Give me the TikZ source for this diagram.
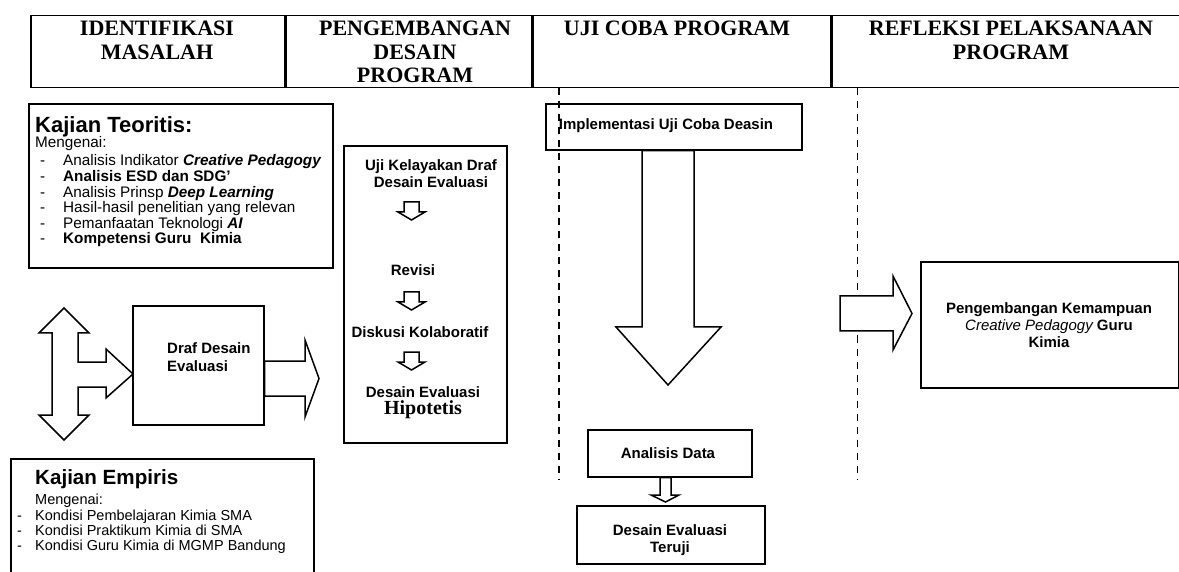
\documentclass[tikz,border=0pt]{standalone}
\usepackage{fontspec}
\setmainfont{Liberation Sans}
\newfontfamily\headfont{Liberation Serif}
\usepackage{tikz}
\usetikzlibrary{positioning,calc}

\begin{document}
\begin{tikzpicture}[
  x=1pt,y=-1pt,
  cell/.style={draw,line width=1.5pt,anchor=north west,minimum height=72pt,inner sep=0pt},
  headtxt/.style={anchor=north,align=center,inner sep=0pt,font=\headfont\bfseries\fontsize{22}{23.3}\selectfont},
  box/.style={draw,line width=1.6pt,anchor=north west,inner sep=0pt},
  txt/.style={align=center,inner sep=0pt,font=\bfseries\fontsize{15}{17}\selectfont},
  hollow/.style={draw,line width=1.5pt,fill=white,line join=miter},
  phase/.style={line width=1.4pt,dash pattern=on 7pt off 6pt},
  sdown/.pic={\path[hollow] (-7.5,0) -- (-7.5,10) -- (-13.5,10) -- (0,18) -- (13.5,10) -- (7.5,10) -- (7.5,0) -- cycle;}
]
  \useasboundingbox (0,0) rectangle (1179,572);
  \clip (0,0) rectangle (1179,572);

  % header row
  \node[cell,minimum width=254pt] (c1) at (30,15) {};
  \node[cell,minimum width=245pt,right=0pt of c1] (c2) {};
  \node[cell,minimum width=298pt,right=0pt of c2] (c3) {};
  \node[cell,minimum width=354pt,right=0pt of c3] (c4) {};
  \node[headtxt] (t1) at (157,21) {IDENTIFIKASI\\MASALAH};
  \node[headtxt] (t2) at (415,21) {PENGEMBANGAN\\DESAIN\\PROGRAM};
  \node[headtxt] (t3) at (677,21) {UJI COBA PROGRAM};
  \node[headtxt] (t4) at (1011,21) {REFLEKSI PELAKSANAAN\\PROGRAM};

  % phase separators
  \coordinate (s1) at ($(c3.south west)+(27,0)$);
  \coordinate (s2) at ($(c4.south west)+(26,0)$);
  \draw[phase] (s1) -- ++(0,391);
  \draw[phase] (s2) -- ++(0,391);

  % identifikasi masalah
  \node[box,minimum width=304pt,minimum height=164pt] (teori) at (28,103) {};
  \node[anchor=north west,inner sep=0pt,font=\fontsize{15.3}{15}\selectfont] (teoritxt) at (35,116) {%
    \begin{tabular}{@{\hspace{5pt}}p{23pt}@{}l@{}}
      \multicolumn{2}{@{}l@{}}{\fontsize{22}{22}\selectfont\bfseries Kajian Teoritis:}\\
      \multicolumn{2}{@{}l@{}}{Mengenai:}\\[2.6pt]
      - & Analisis Indikator \textbf{\textit{Creative Pedagogy}}\\
      - & \textbf{Analisis ESD dan SDG’}\\
      - & Analisis Prinsp \textbf{\textit{Deep Learning}}\\
      - & Hasil-hasil penelitian yang relevan\\
      - & Pemanfaatan Teknologi \textbf{\textit{AI}}\\
      - & \textbf{Kompetensi Guru\ \ Kimia}
    \end{tabular}};

  \path[hollow] (64,308) -- (89,333) -- (78,333) -- (78,362) -- (106,362) -- (106,349)
    -- (133,374) -- (106,398) -- (106,387) -- (78,387) -- (78,415) -- (89,415)
    -- (64,440) -- (39,415) -- (52,415) -- (52,333) -- (39,333) -- cycle;

  \node[box,minimum width=131pt,minimum height=119pt] (draf) at (132,305) {};
  \node[txt,anchor=west,align=left,font=\bfseries\fontsize{15}{18}\selectfont] (draftxt) at (167,357.5) {Draf Desain\\Evaluasi};
  \path[hollow] (draf.east |- 0,361) -- (305,361) -- (305,340) -- (319,378.5)
    -- (305,417) -- (305,396) -- (draf.east |- 0,396) -- cycle;

  \node[box,minimum width=303pt,minimum height=130pt] (empiris) at (10,458) {};
  \node[anchor=north west,inner sep=0pt,font=\fontsize{14.5}{14.5}\selectfont] (empiristxt) at (17,469) {%
    \begin{tabular}{@{}p{18pt}@{}l@{}}
      & \fontsize{20.6}{22}\selectfont\bfseries Kajian Empiris\\[6pt]
      & Mengenai:\\[1pt]
      - & Kondisi Pembelajaran Kimia SMA\\
      - & Kondisi Praktikum Kimia di SMA\\
      - & Kondisi Guru Kimia di MGMP Bandung
    \end{tabular}};

  % pengembangan desain program
  \node[box,minimum width=163pt,minimum height=297pt] (mid) at (343,145) {};
  \node[txt] (uji) at (431,173.5) {Uji Kelayakan Draf\\Desain Evaluasi};
  \pic at (411.5,202) {sdown};
  \node[txt] (revisi) at (413,270) {Revisi};
  \pic at (411.5,292) {sdown};
  \node[txt] (diskusi) at (420,332) {Diskusi Kolaboratif};
  \pic at (411.5,352) {sdown};
  \node[txt,anchor=base] (hipo) at (423,397.4) {Desain Evaluasi};
  \node[txt,anchor=base,font=\headfont\bfseries\fontsize{20}{20}\selectfont] (hipo2) at (423,414.6) {Hipotetis};

  % uji coba program
  \node[box,minimum width=256pt,minimum height=46pt] (impl) at (545,103) {};
  \node[txt] (impltxt) at (666,126) {Implementasi Uji Coba Deasin};
  \path[hollow] (impl.south -| 642,0) -- (642,327) -- (616,327) -- (668,385) -- (721,327)
    -- (694,327) -- (impl.south -| 694,0) -- cycle;

  \node[box,minimum width=164pt,minimum height=47pt] (anal) at (587,429) {};
  \node[txt] (analtxt) at (668,453) {Analisis Data};
  \node[box,minimum width=188pt,minimum height=58pt] (teruji) at (576,505) {};
  \node[txt] (terujitxt) at (670,540) {Desain Evaluasi\\Teruji};
  \path[hollow] (anal.south -| 660,0) -- (660,495) -- (651,495) -- (665.5,502) -- (679,495)
    -- (671,495) -- (anal.south -| 671,0) -- cycle;

  % refleksi
  \node[box,minimum width=258pt,minimum height=126pt] (hasil) at (920,261) {};
  \node[txt] (hasiltxt) at (1049,325) {Pengembangan Kemampuan\\{\mdseries\itshape Creative Pedagogy} Guru\\Kimia};
  \path[hollow] (840,296) -- (893,296) -- (893,276) -- (912,313.5) -- (893,350)
    -- (893,331) -- (840,331) -- cycle;
\end{tikzpicture}
\end{document}
